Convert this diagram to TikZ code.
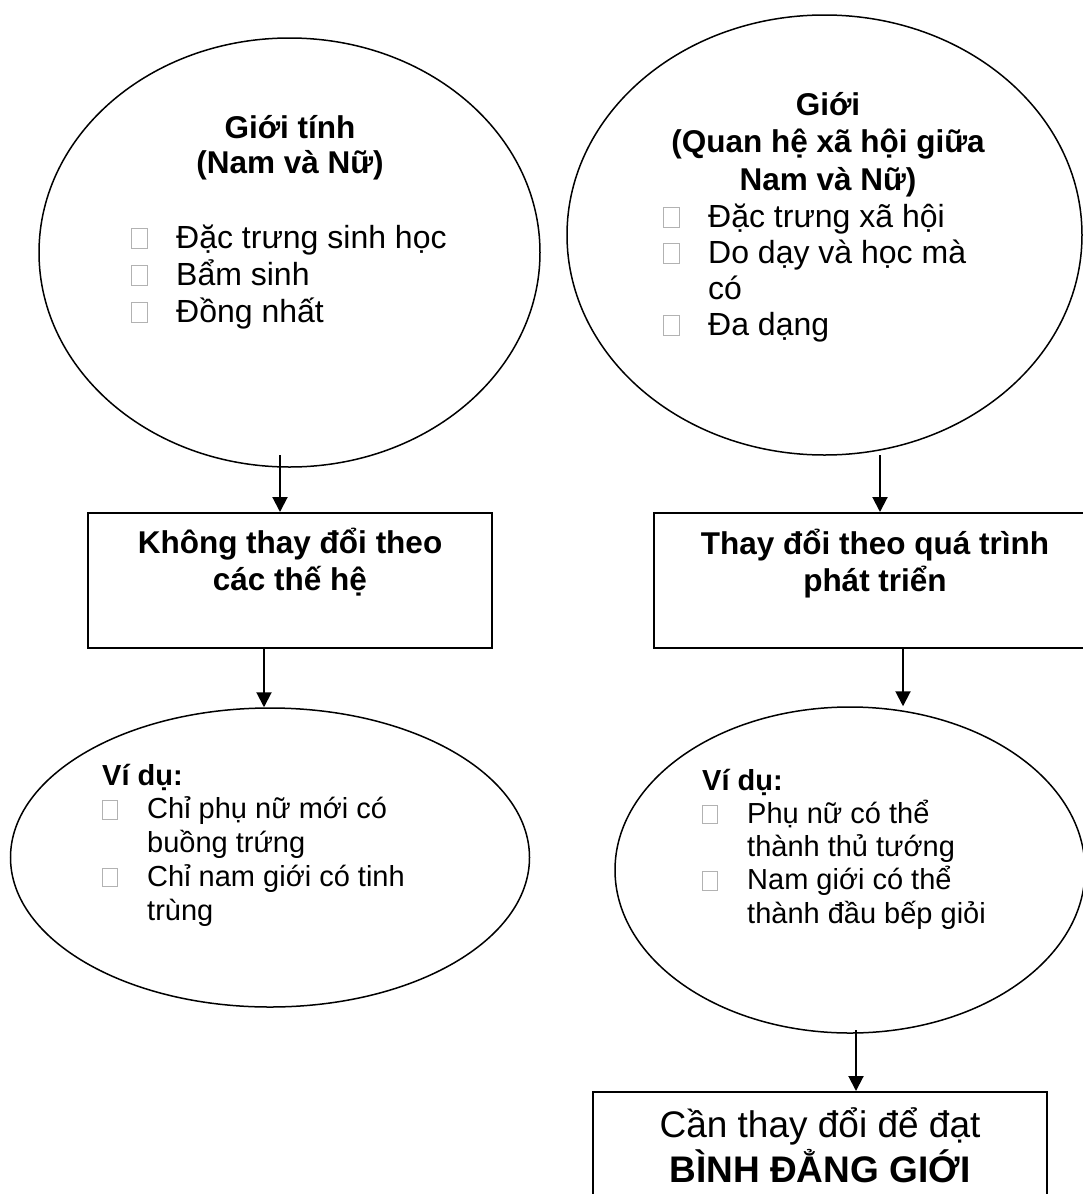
\documentclass[tikz,border=0pt]{standalone}
\usepackage{fontspec}
\setmainfont{Liberation Sans}
\usetikzlibrary{shapes.geometric}
\usetikzlibrary{arrows.meta}
\newcommand{\bx}{{\color{gray!60}\setlength{\fboxsep}{0pt}\setlength{\fboxrule}{0.9pt}\fbox{\rule{0pt}{0.6em}\hspace{0.48em}}}}
\newcommand{\itm}[1]{\makebox[45pt][l]{\bx}#1}
\newcommand{\cont}[1]{\hspace*{45pt}#1}

\begin{document}
\begin{tikzpicture}[x=1pt,y=-1pt,
  blob/.style={draw, ellipse, line width=1.5pt, inner sep=0pt},
  panel/.style={draw, rectangle, line width=2pt, inner sep=0pt},
  arr/.style={-{Triangle[width=15pt,length=15pt]}, line width=2pt},
  head/.style={font=\bfseries\fontsize{31.5}{37}\selectfont, align=center, anchor=base, inner sep=0pt},
  body/.style={font=\fontsize{32}{37}\selectfont, align=left, anchor=base west, inner sep=0pt},
  note/.style={font=\fontsize{29}{33.75}\selectfont, align=left, anchor=base west, inner sep=0pt}]
  \useasboundingbox (0,0) rectangle (1083,1194);
  \clip (0,0) rectangle (1083,1194);

  \node [blob, minimum width=501pt, minimum height=429pt] (E1) at (289.5,252.5) {};
  \node [blob, minimum width=515pt, minimum height=440pt] (E2) at (824.5,235) {};
  \node [panel, minimum width=404pt, minimum height=135pt] (B1) at (290,580.5) {};
  \node [panel, minimum width=442pt, minimum height=135pt] (B2) at (875,580.5) {};
  \node [blob, minimum width=519pt, minimum height=299pt] (E3) at (270,857.5) {};
  \node [blob, minimum width=470pt, minimum height=326pt] (E4) at (850,870) {};
  \node [panel, minimum width=454pt, minimum height=140pt] (B3) at (820,1162) {};

  \node [head, font=\bfseries\fontsize{31.5}{35}\selectfont] (T1) at (290,173) {Giới tính\\(Nam và Nữ)};
  \node [body] (L1) at (131,322) {\itm{Đặc trưng sinh học}\\\itm{Bẩm sinh}\\\itm{Đồng nhất}};

  \node [head, font=\bfseries\fontsize{31.5}{37.5}\selectfont] (T2) at (828,190) {Giới\\(Quan hệ xã hội giữa\\Nam và Nữ)};
  \node [body, font=\fontsize{32}{36}\selectfont] (L2) at (663,335) {\itm{Đặc trưng xã hội}\\\itm{Do dạy và học mà}\\\cont{có}\\\itm{Đa dạng}};

  \node [head] (K1) at (290,590) {Không thay đổi theo\\các thế hệ};
  \node [head] (K2) at (875,591) {Thay đổi theo quá trình\\phát triển};

  \node [note] (V1) at (102,920) {\textbf{Ví dụ:}\\\itm{Chỉ phụ nữ mới có}\\\cont{buồng trứng}\\\itm{Chỉ nam giới có tinh}\\\cont{trùng}};
  \node [note, font=\fontsize{29}{33.25}\selectfont] (V2) at (702,923) {\textbf{Ví dụ:}\\\itm{Phụ nữ có thể}\\\cont{thành thủ tướng}\\\itm{Nam giới có thể}\\\cont{thành đầu bếp giỏi}};

  \node [head, font=\fontsize{37}{45}\selectfont] (K3) at (820,1182) {Cần thay đổi để đạt\\\textbf{BÌNH ĐẲNG GIỚI}};

  \coordinate (S1) at (280,455);
  \coordinate (S2) at (880,455);
  \coordinate (S3) at (264,648);
  \coordinate (S4) at (903,648);
  \coordinate (S5) at (856,1030);

  \draw [arr] (S1) -- (S1 |- B1.north);
  \draw [arr] (S2) -- (S2 |- B2.north);
  \draw [arr] (S3) -- (S3 |- E3.north);
  \draw [arr] (S4) -- (S4 |- E4.north);
  \draw [arr] (S5) -- (S5 |- B3.north);
\end{tikzpicture}
\end{document}
